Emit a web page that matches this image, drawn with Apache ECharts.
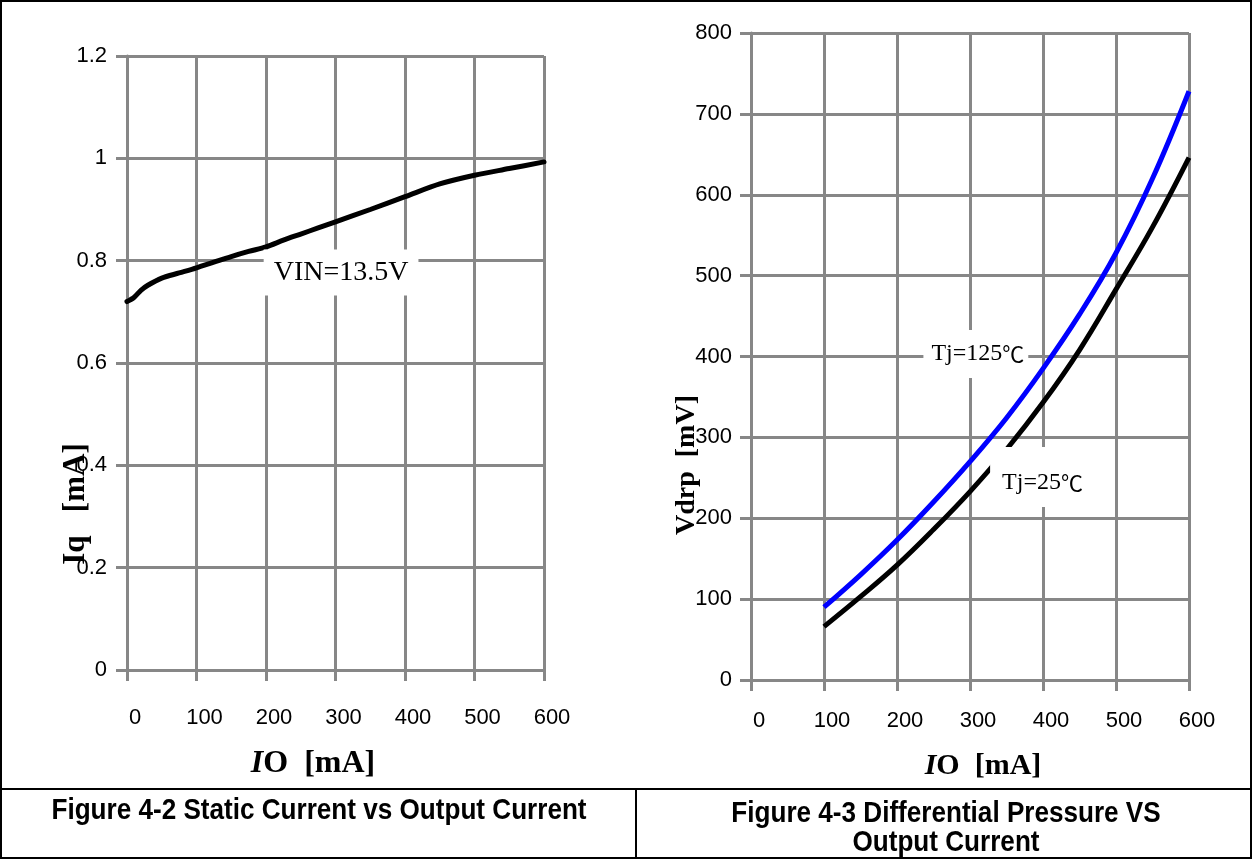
<!DOCTYPE html>
<html><head><meta charset="utf-8">
<script src="https://cdn.jsdelivr.net/npm/echarts@6/dist/echarts.min.js"></script>
<style>html,body{margin:0;padding:0;background:#fff}#c{width:1252px;height:859px}</style>
</head><body><div id="c"></div>
<script>
// ---- data ----
const ioLeft = [0, 10, 20, 30, 50, 75, 100, 125, 150, 175, 200, 225, 250, 275, 300, 350, 400, 450, 500, 550, 600];
const iqValues = [0.720, 0.728, 0.742, 0.752, 0.766, 0.776, 0.786, 0.797, 0.808, 0.818, 0.827, 0.840, 0.852, 0.864, 0.876, 0.900, 0.925, 0.950, 0.967, 0.980, 0.993];
const ioRight = [100, 150, 200, 250, 300, 350, 400, 450, 500, 550, 600];
const vdrp125 = [90, 130, 173, 220, 270, 324, 385, 452, 528, 620, 728];
const vdrp25 = [66, 103, 142, 186, 233, 285, 343, 408, 483, 560, 646];
const captionLeft = 'Figure 4-2 Static Current vs Output Current';
const captionRight = 'Figure 4-3 Differential Pressure VS\nOutput Current';
const labelVin = 'VIN=13.5V';
const label125 = '{t|Tj=125}{c|\u2103}';
const label25 = '{t|Tj=25}{c|\u2103}';

const GRAY = '#878787';
const SANS = '"Liberation Sans", Arial, sans-serif';
const SERIF = '"Liberation Serif", "Times New Roman", serif';
const CJK = '"Noto Sans CJK SC", sans-serif';

function pairs(xs, ys) { return xs.map((x, i) => [x, ys[i]]); }

function axisCommon() {
  return {
    type: 'value',
    nameMoveOverlap: false,
    axisLine: { show: true, lineStyle: { color: GRAY, width: 3 } },
    axisTick: { show: true, length: 11, lineStyle: { color: GRAY, width: 3 } },
    splitLine: { show: true, lineStyle: { color: GRAY, width: 3 } },
  };
}
function titleRich(size) {
  return {
    i: { fontFamily: SERIF, fontSize: size, fontWeight: 'bold', fontStyle: 'italic', color: '#000' },
    b: { fontFamily: SERIF, fontSize: size, fontWeight: 'bold', color: '#000' }
  };
}
function annot(text, coord, size, padding) {
  return {
    symbol: 'rect', symbolSize: 1, silent: true,
    itemStyle: { color: 'rgba(0,0,0,0)' },
    label: { show: true, position: 'inside', formatter: text, color: '#000',
      fontFamily: SERIF, fontSize: size, backgroundColor: '#fff', padding: padding,
      rich: {
        t: { fontFamily: SERIF, fontSize: size, color: '#000' },
        c: { fontFamily: CJK, fontSize: size - 2, color: '#000' }
      } },
    data: [{ coord: coord }],
    z: 20
  };
}

const chart = echarts.init(document.getElementById('c'));
chart.setOption({
  animation: false,
  backgroundColor: '#fff',
  grid: [
    { left: 127, top: 56, width: 417, height: 614 },
    { left: 751, top: 33, width: 438, height: 647 }
  ],
  xAxis: [
    Object.assign(axisCommon(), {
      gridIndex: 0, min: 0, max: 600, interval: 100,
      axisLabel: { fontSize: 22, color: '#000', fontFamily: SANS, margin: 37, padding: [0, 0, 0, 16] },
      name: '{i|I}{b|O  [mA]}', nameLocation: 'middle', nameGap: 78,
      nameTextStyle: { rich: titleRich(32), padding: [0, 45, 0, 0] }
    }),
    Object.assign(axisCommon(), {
      gridIndex: 1, min: 0, max: 600, interval: 100,
      axisLabel: { fontSize: 22, color: '#000', fontFamily: SANS, margin: 30, padding: [0, 0, 0, 16] },
      name: '{i|I}{b|O  [mA]}', nameLocation: 'middle', nameGap: 71,
      nameTextStyle: { rich: titleRich(30), padding: [0, 0, 0, 26] }
    })
  ],
  yAxis: [
    Object.assign(axisCommon(), {
      gridIndex: 0, min: 0, max: 1.2, interval: 0.2,
      axisLabel: { fontSize: 22, color: '#000', fontFamily: SANS, margin: 20, padding: [8, 0, 0, 0] },
      name: 'Iq   [mA]', nameLocation: 'middle', nameRotate: 90, nameGap: 36,
      nameTextStyle: { fontFamily: SERIF, fontSize: 31, fontWeight: 'bold', color: '#000', padding: [0, 282, 0, 0] }
    }),
    Object.assign(axisCommon(), {
      gridIndex: 1, min: 0, max: 800, interval: 100,
      axisLabel: { fontSize: 22, color: '#000', fontFamily: SANS, margin: 19, padding: [8, 0, 0, 0] },
      name: 'Vdrp  [mV]', nameLocation: 'middle', nameRotate: 90, nameGap: 50,
      nameTextStyle: { fontFamily: SERIF, fontSize: 28, fontWeight: 'bold', color: '#000', padding: [0, 217, 0, 0] }
    })
  ],
  series: [
    {
      type: 'line', xAxisIndex: 0, yAxisIndex: 0, data: pairs(ioLeft, iqValues),
      symbol: 'none', smooth: 0.3, clip: false,
      lineStyle: { color: '#000', width: 5, cap: 'round' },
      markPoint: annot(labelVin, [308, 0.777], 28, [9, 10, 9, 10])
    },
    {
      type: 'line', xAxisIndex: 1, yAxisIndex: 1, data: pairs(ioRight, vdrp25),
      symbol: 'none', smooth: 0.4, clip: false,
      lineStyle: { color: '#000', width: 5 },
      markPoint: annot(label25, [398, 251], 24, [24, 10, 12, 12])
    },
    {
      type: 'line', xAxisIndex: 1, yAxisIndex: 1, data: pairs(ioRight, vdrp125),
      symbol: 'none', smooth: 0.4, clip: false,
      lineStyle: { color: '#0000ff', width: 5 },
      markPoint: annot(label125, [308, 403], 24, [12, 4, 12, 8])
    }
  ],
  graphic: [
    { type: 'rect', shape: { x: 1, y: 1, width: 1250, height: 857 }, style: { fill: 'none', stroke: '#000', lineWidth: 2 }, silent: true, z: 50 },
    { type: 'line', shape: { x1: 0, y1: 789, x2: 1252, y2: 789 }, style: { stroke: '#000', lineWidth: 2 }, silent: true, z: 50 },
    { type: 'line', shape: { x1: 636, y1: 789, x2: 636, y2: 859 }, style: { stroke: '#000', lineWidth: 2 }, silent: true, z: 50 },
    { type: 'text', x: 319, y: 811, scaleX: 0.87, silent: true, z: 50,
      style: { text: captionLeft, font: 'bold 30px ' + SANS, fill: '#000', align: 'center', verticalAlign: 'middle' } },
    { type: 'text', x: 946, y: 828, scaleX: 0.87, silent: true, z: 50,
      style: { text: captionRight, font: 'bold 30px ' + SANS, lineHeight: 29, fill: '#000', align: 'center', verticalAlign: 'middle' } }
  ]
});
</script>
</body></html>
